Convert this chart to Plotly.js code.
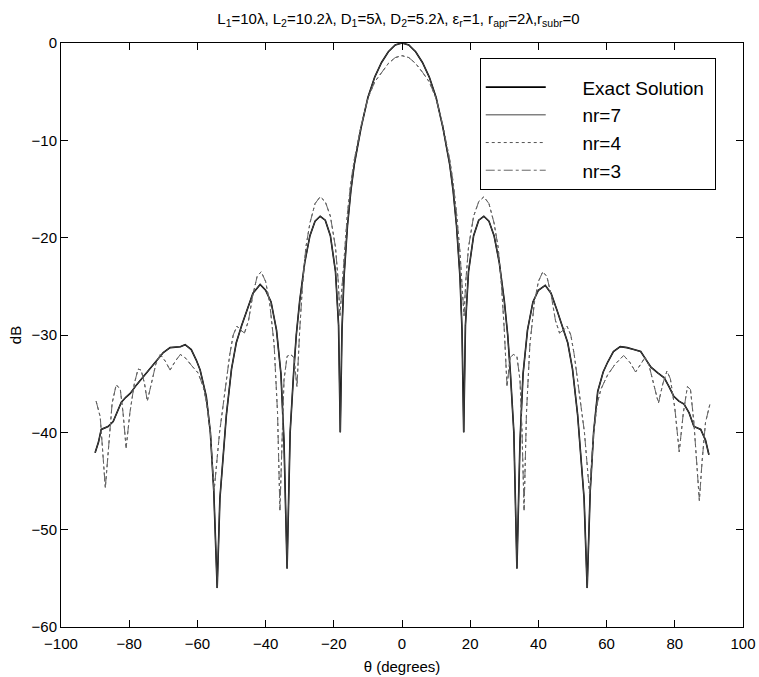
<!DOCTYPE html>
<html>
<head>
<meta charset="utf-8">
<script src="https://cdn.plot.ly/plotly-3.0.1.min.js"></script>
<style>html,body{margin:0;padding:0;background:#fff;}#chart{width:759px;height:677px;}</style>
</head>
<body>
<div id="chart"></div>
<script>
// Smooth pattern (Exact Solution)
const exactTheta = [-90,-89,-88.2,-86.2,-84.7,-83.5,-82.3,-81,-79.7,-77.8,-75.9,-74,-72.1,-70,-68,-65,-63.6,-61.8,-60.3,-59.2,-57.4,-56.2,-55.2,-54.2,-53.4,-51.5,-50,-48.6,-47,-45.5,-43.7,-41.6,-40,-38.4,-36.8,-35.5,-34.6,-33.7,-32.8,-31.8,-31,-30,-28.5,-27,-25.5,-24,-22.5,-21,-19.5,-18.6,-18.1,-17.6,-17,-16,-15,-14,-12,-10,-8,-6,-4,-2,
  0,2,4,6,8,10,12,14,15,16,17,17.6,18.1,18.6,19.5,21,22.5,24,25.5,27,28.5,30,31,31.8,32.8,33.7,34.6,35.5,36.8,38.4,40,42,43.7,45.5,47,48.6,50,51.5,53.4,54.3,55.2,56.2,57.4,59,60.3,62,64,66,68,70,71.5,73,75,76.9,78.3,79.7,81.2,82.7,84.2,85.6,87.6,89,90];
const exactDB = [-42.1,-41,-39.7,-39.4,-38.9,-37.8,-36.9,-36.4,-36,-35.1,-34.3,-33.6,-32.8,-31.8,-31.3,-31.2,-31,-31.5,-32.6,-33.6,-36.3,-40,-46,-56,-46.8,-38.2,-33.5,-30.8,-29,-27.5,-25.7,-24.8,-25.4,-26.6,-29.5,-34,-41,-54,-40,-34,-30,-26.5,-22.5,-19.8,-18.3,-17.8,-18.2,-19.8,-23.5,-29,-40,-29.5,-24,-18.8,-15.2,-12.5,-8.7,-5.6,-3.5,-2.0,-0.9,-0.2,
  0,-0.2,-0.9,-2.0,-3.5,-5.6,-8.7,-12.5,-15.2,-18.8,-24,-29.5,-40,-29,-23.5,-19.8,-18.2,-17.8,-18.3,-19.8,-22.5,-26.5,-30,-34,-40,-54,-41,-34,-29.5,-26.6,-25.4,-24.9,-25.7,-27.5,-29,-30.8,-33.5,-38.2,-46.8,-56,-46,-40,-35.8,-33.8,-32.8,-31.7,-31.2,-31.3,-31.5,-31.7,-32.5,-33.3,-33.9,-34.4,-35.3,-36.3,-36.8,-37.1,-38,-39.4,-39.7,-40.8,-42.3];

// nr=7 (follows the exact solution closely)
const nr7Theta = exactTheta;
const nr7DB = exactDB;

// Wiggly pattern (nr=4)
const nr4Theta = [-89.7,-88.5,-87,-86,-85,-83.8,-82.6,-81.8,-80.9,-79.8,-78.5,-77.4,-76.5,-75.5,-74.7,-73.5,-72.2,-70.9,-69.4,-68,-66.5,-65,-63.4,-61.8,-59.8,-58.3,-57.3,-56.2,-55.1,-53.5,-52,-50.5,-49.5,-48.4,-47.3,-46.2,-45,-43.8,-42.5,-41.3,-40,-38.8,-37.5,-36.5,-35.8,-35.2,-34.6,-33.7,-32.7,-31.7,-30.8,-30,-29.2,-28.2,-27,-25.5,-24,-22.5,-21,-19.5,-18.7,-18.2,-17.8,-17,-16,-15,-14,-12,-10,-8,-6,-4,-2,
  0,2,4,6,8,10,12,14,15,16,17,17.8,18.2,18.7,19.5,21,22.5,24,25.5,27,28.2,29.2,30,30.8,31.7,32.7,33.7,34.6,35.2,35.8,36.5,37.5,38.8,40,41.3,42.5,43.8,45,46.2,47.3,48.4,49.5,50.5,52,53.5,55,56.2,57.3,58.3,60.3,62.5,65,66.8,68.5,70,71.3,72.5,73.8,75.2,76.5,77.7,78.7,80,81.3,82.5,83.7,84.6,85.6,86.5,87.2,88,89,90.3];
const nr4DB = [-36.8,-38.4,-45.7,-41,-37,-35.1,-35.6,-38,-41.6,-38,-35,-33.5,-33.6,-35,-36.8,-35,-33,-32,-32.7,-33.6,-32.7,-32,-32.4,-33.1,-33.9,-35.3,-37,-40,-46,-40,-36,-32,-30,-29.1,-29.5,-29.8,-28.5,-26,-24,-23.5,-24.5,-26.7,-31,-38,-48,-40,-34.6,-32.2,-32,-32.3,-35.3,-29.5,-25,-21,-18.5,-16.5,-15.8,-16.3,-17.8,-21,-24.5,-28,-26,-21.5,-17.5,-14.3,-12,-8.5,-5.7,-4.0,-3.0,-2.1,-1.5,
  -1.3,-1.5,-2.1,-3.0,-4.0,-5.7,-8.5,-12,-14.3,-17.5,-21.5,-26,-28,-24.5,-21,-17.8,-16.3,-15.8,-16.5,-18.5,-21,-25,-29.5,-35.3,-32.3,-32,-32.2,-34.6,-40,-48,-38,-31,-26.7,-24.5,-23.5,-24,-26,-28.5,-29.8,-29.5,-29.1,-30,-32,-36,-40,-46.3,-40,-37,-35.6,-34.1,-33,-32.1,-32.8,-33.8,-33,-32.3,-33.2,-35,-37,-35,-33.7,-34.5,-37.5,-42,-38,-35.3,-35.6,-39,-43,-47,-43,-39,-37.1];

// nr=3 (follows nr=4 closely)
const nr3Theta = nr4Theta;
const nr3DB = nr4DB;

const seriesNames = ['Exact Solution', 'nr=7', 'nr=4', 'nr=3'];
const xTicks = [-100,-80,-60,-40,-20,0,20,40,60,80,100];
const yTicks = [-60,-50,-40,-30,-20,-10,0];

const font = 'Arial, "Liberation Sans", Helvetica, sans-serif';
const pad = '\u00a0\u00a0\u00a0\u00a0\u00a0\u00a0';
const fmt = v => v < 0 ? '\u2212' + Math.abs(v) : String(v);

const traces = [
  {x: exactTheta, y: exactDB, name: pad + seriesNames[0] + '\u00a0', mode: 'lines', line: {color: '#000', width: 1.6}},
  {x: nr7Theta, y: nr7DB, name: pad + seriesNames[1], mode: 'lines', line: {color: '#444', width: 1}},
  {x: nr4Theta, y: nr4DB, name: pad + seriesNames[2], mode: 'lines', line: {color: '#555', width: 1, dash: 'dot'}},
  {x: nr3Theta, y: nr3DB, name: pad + seriesNames[3], mode: 'lines', line: {color: '#666', width: 1, dash: 'dashdot'}}
];

const layout = {
  width: 759, height: 677,
  margin: {l: 61, r: 16, t: 43, b: 49.5},
  paper_bgcolor: '#fff', plot_bgcolor: '#fff',
  font: {family: font, color: '#000', size: 15},
  title: {
    text: 'L<sub>1</sub>=10λ, L<sub>2</sub>=10.2λ, D<sub>1</sub>=5λ, D<sub>2</sub>=5.2λ, ε<sub>r</sub>=1, r<sub>apr</sub>=2λ,r<sub>subr</sub>=0',
    font: {family: font, size: 15, color: '#000'},
    x: 0.525, xanchor: 'center', y: 0.972, yanchor: 'middle'
  },
  xaxis: {
    range: [-100, 100], tickvals: xTicks, ticktext: xTicks.map(fmt),
    ticks: 'inside', ticklen: 7, tickcolor: '#000', mirror: 'ticks',
    showline: true, linecolor: '#000', linewidth: 1, showgrid: false, zeroline: false,
    tickfont: {size: 15}, ticklabelstandoff: 3,
    title: {text: 'θ (degrees)', font: {size: 15}, standoff: 10}
  },
  yaxis: {
    range: [-60, 0], tickvals: yTicks, ticktext: yTicks.map(fmt),
    ticks: 'inside', ticklen: 7, tickcolor: '#000', mirror: 'ticks',
    showline: true, linecolor: '#000', linewidth: 1, showgrid: false, zeroline: false,
    tickfont: {size: 15},
    title: {text: 'dB', font: {size: 15}, standoff: 6}
  },
  showlegend: true,
  legend: {
    x: 0.614, y: 0.974, xanchor: 'left', yanchor: 'top',
    bgcolor: '#fff', bordercolor: '#000', borderwidth: 1,
    font: {size: 19, family: font},
    title: {text: '\u00a0', font: {size: 7}},
    itemwidth: 60, traceorder: 'normal', tracegroupgap: 0
  }
};

Plotly.newPlot('chart', traces, layout, {displayModeBar: false, staticPlot: true});
</script>
</body>
</html>
